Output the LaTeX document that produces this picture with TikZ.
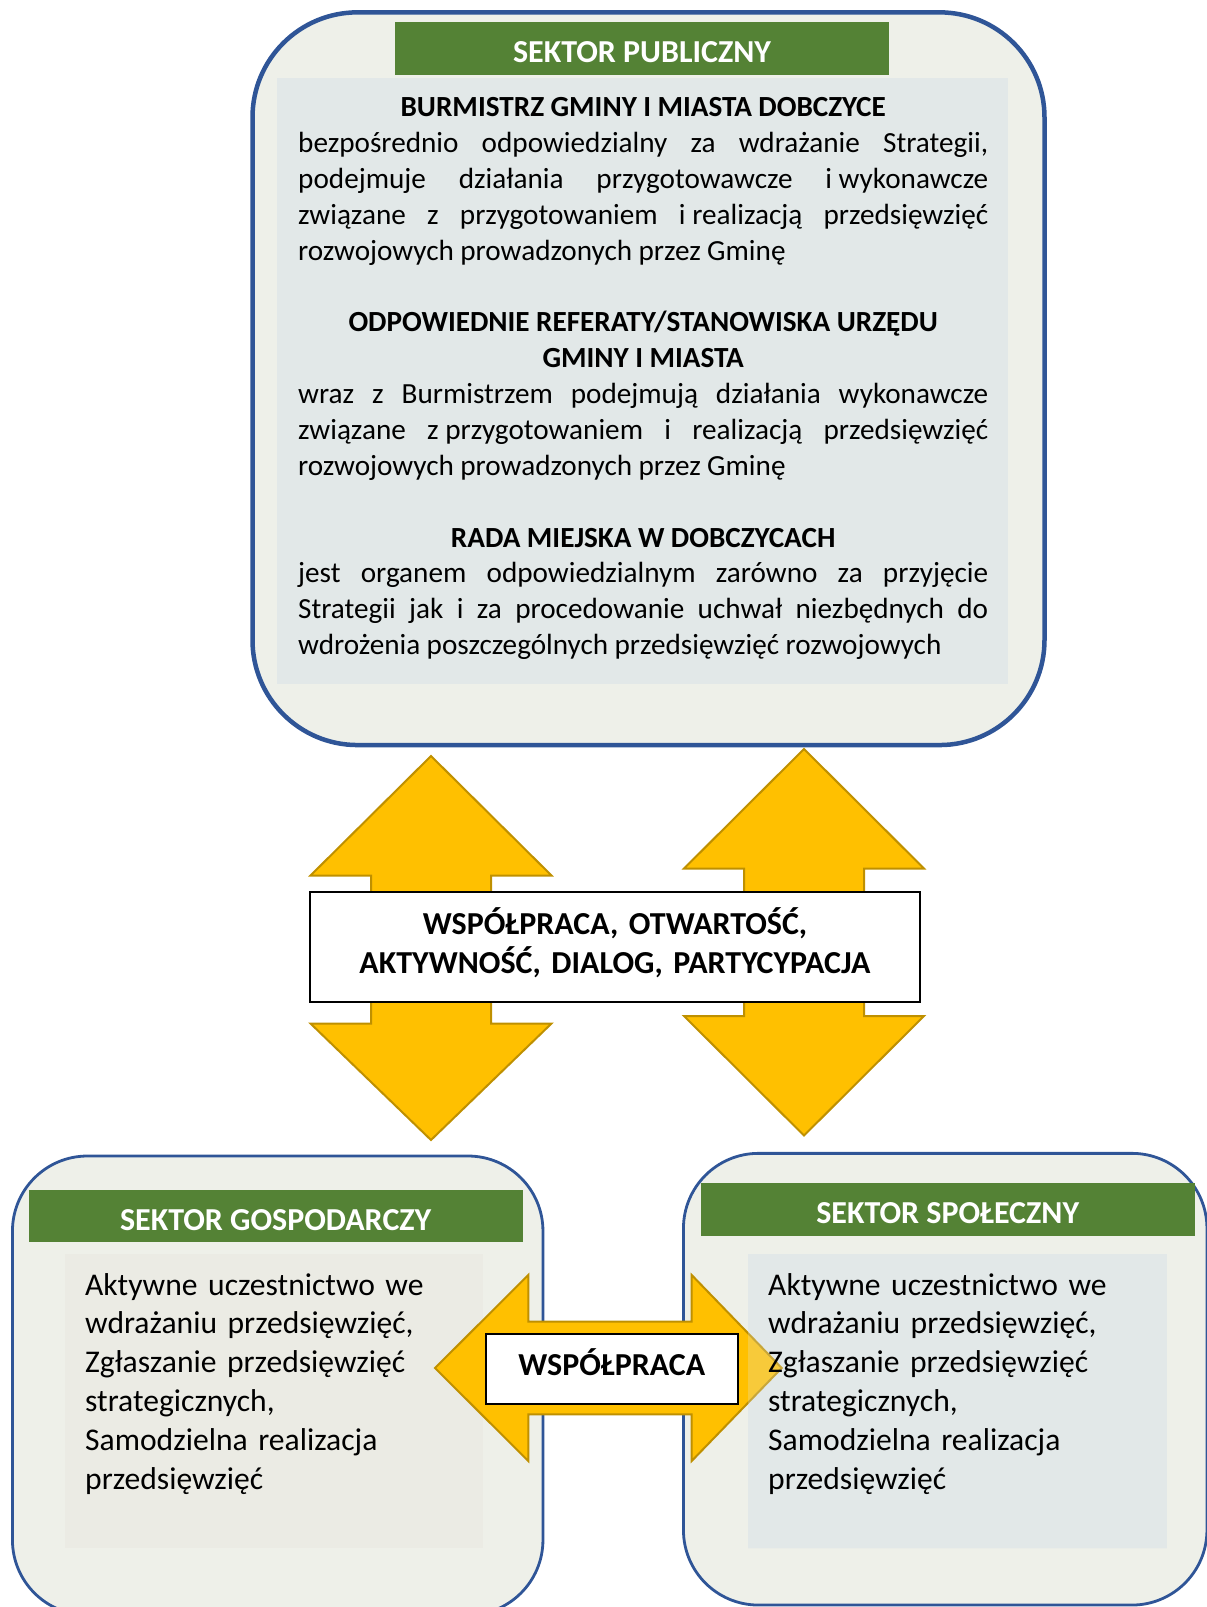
\documentclass[tikz,border=0pt]{standalone}
\usepackage{fontspec}
\setmainfont{Carlito}
\usetikzlibrary{positioning}
\definecolor{boxblue}{HTML}{2F5597}
\definecolor{boxbg}{HTML}{EEF0E9}
\definecolor{hdrgreen}{HTML}{548235}
\definecolor{panelblue}{HTML}{E2E8E8}
\definecolor{panelgrey}{HTML}{EBEBE4}
\definecolor{arrowfill}{HTML}{FFC000}
\definecolor{arrowline}{HTML}{BF9000}
\newcommand{\fixsp}{\hspace{0.226em}}
\newcommand{\jline}[1]{\hbox to 690pt{\spaceskip=0.226em plus 1fil\relax #1}}
\newcommand{\titleline}[1]{\hbox to 690pt{\hfil\bfseries #1\hfil}}
\frenchspacing

\begin{document}
\begin{tikzpicture}[x=1pt, y=-1pt,
  sector/.style={draw=boxblue, fill=boxbg, line width=2.8pt, rounded corners=75pt, inner sep=0pt},
  header/.style={fill=hdrgreen, text=white, inner sep=0pt, minimum width=494pt, minimum height=52.5pt,
                 text height=30pt, text depth=2pt, font=\fontsize{32}{38}\selectfont\bfseries},
  panel/.style={inner sep=0pt},
  body/.style={anchor=base west, inner sep=0pt, text width=690pt,
               font=\fontsize{29.2}{35.86}\selectfont},
  list/.style={anchor=base west, inner sep=0pt, text width=420pt, align=left,
               font=\fontsize{31.6}{38.8}\selectfont},
  valbox/.style={draw=black, fill=white, line width=2pt, inner sep=0pt, align=center,
                 font=\fontsize{32}{39}\selectfont\bfseries},
  bigarrow/.style={draw=arrowline, fill=arrowfill, line width=2pt, line join=miter}]
  \useasboundingbox (0,0) rectangle (1207,1607);
  \clip (0,0) rectangle (1207,1607);

  % public sector
  \node[sector, line width=4.5pt, rounded corners=105pt, minimum width=792pt, minimum height=732.7pt] (pub) at (648.5,378.7) {};
  \node[panel, fill=panelblue, minimum width=730.5pt, minimum height=606pt] (pubin) at (642.7,381) {};
  \node[header] (pubhdr) at (642,48.4) {SEKTOR PUBLICZNY};

  % economic and social sectors
  \node[sector, minimum width=530.5pt, minimum height=459pt] (gos) at (277.7,1385.5) {};
  \node[panel, fill=panelgrey, minimum width=418.5pt, minimum height=294pt] (gosin) at (274.2,1401) {};
  \node[header] (goshdr) at (275.6,1216.2) {SEKTOR GOSPODARCZY};

  \node[sector, minimum width=523.5pt, minimum height=451.7pt] (spo) at (945.2,1379.2) {};
  \node[panel, fill=panelblue, minimum width=419pt, minimum height=294.3pt] (spoin) at (957.5,1401.2) {};
  \node[header] (spohdr) at (947.7,1209.5) {SEKTOR SPOŁECZNY};

  % arrows between the sectors
  \draw[bigarrow] (431,756) -- (551.5,875.5) -- (491,875.5) -- (491,1023.5) -- (551.5,1023.5)
    -- (431,1140) -- (310.5,1023.5) -- (371,1023.5) -- (371,875.5) -- (310.5,875.5) -- cycle;
  \draw[bigarrow] (804,749) -- (924,868.5) -- (864,868.5) -- (864,1016) -- (924,1016)
    -- (804,1135.5) -- (684,1016) -- (744,1016) -- (744,868.5) -- (684,868.5) -- cycle;
  \node[valbox, text width=610pt, minimum height=109.4pt, text height=20pt, text depth=46pt] (values) at (615,947)
    {WSPÓŁPRACA, OTWARTOŚĆ,\\ AKTYWNOŚĆ, DIALOG, PARTYCYPACJA};

  \draw[bigarrow] (435,1368) -- (528.3,1275) -- (528.3,1321.7) -- (691.7,1321.7) -- (691.7,1275)
    -- (781.7,1368) -- (691.7,1461) -- (691.7,1414.3) -- (528.3,1414.3) -- (528.3,1461) -- cycle;
  \fill[panelblue, fill opacity=0.25] (spoin.north west) rectangle (spoin.south east);
  \node[valbox, minimum width=252pt, minimum height=70pt, text height=22pt, text depth=10.6pt] (coop) at (611.7,1369.3) {WSPÓŁPRACA};

  % texts
  \node[body] (pubtxt) at (298,116.8) {\spaceskip=0.22em\relax
    \titleline{BURMISTRZ GMINY I MIASTA DOBCZYCE}
    \jline{bezpośrednio odpowiedzialny za wdrażanie Strategii,}
    \jline{podejmuje działania przygotowawcze i\fixsp wykonawcze}
    \jline{związane z przygotowaniem i\fixsp realizacją przedsięwzięć}
    \hbox{rozwojowych prowadzonych przez Gminę}
    \vskip 35.86pt
    \titleline{ODPOWIEDNIE REFERATY/STANOWISKA URZĘDU}
    \titleline{GMINY I MIASTA}
    \jline{wraz z Burmistrzem podejmują działania wykonawcze}
    \jline{związane z\fixsp przygotowaniem i realizacją przedsięwzięć}
    \hbox{rozwojowych prowadzonych przez Gminę}
    \vskip 35.86pt
    \titleline{RADA MIEJSKA W DOBCZYCACH}
    \jline{jest organem odpowiedzialnym zarówno za przyjęcie}
    \jline{Strategii jak i za procedowanie uchwał niezbędnych do}
    \hbox{wdrożenia poszczególnych przedsięwzięć rozwojowych}};

  \node[list] (gostxt) at (85,1295) {Aktywne uczestnictwo we\\ wdrażaniu przedsięwzięć,\\
    Zgłaszanie przedsięwzięć\\ strategicznych,\\ Samodzielna realizacja\\ przedsięwzięć};
  \node[list] (spotxt) at (768,1295) {Aktywne uczestnictwo we\\ wdrażaniu przedsięwzięć,\\
    Zgłaszanie przedsięwzięć\\ strategicznych,\\ Samodzielna realizacja\\ przedsięwzięć};
\end{tikzpicture}
\end{document}
